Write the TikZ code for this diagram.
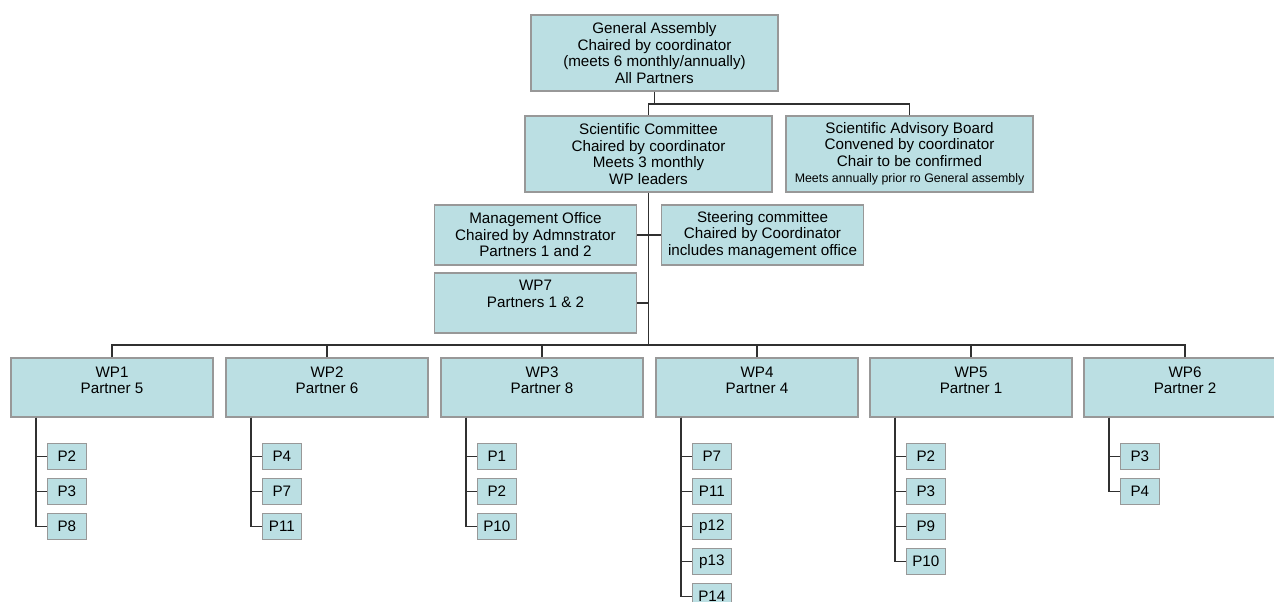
\documentclass[tikz,border=0pt]{standalone}
\usepackage{fontspec}
\setmainfont{Liberation Sans}
\usetikzlibrary{calc}
\definecolor{boxfill}{HTML}{BBDFE3}
\definecolor{boxline}{HTML}{989898}
\definecolor{conn}{HTML}{303030}
\begin{document}
\begin{tikzpicture}[x=1pt,y=-1pt,
  box/.style={draw=boxline,fill=boxfill,line width=1.3pt,inner sep=0pt,align=center,
    font=\fontsize{15.2}{16.5}\selectfont},
  bigbox/.style={box,minimum width=247pt,minimum height=76pt},
  midbox/.style={box,minimum width=202pt,minimum height=60pt},
  wpbox/.style={box,minimum width=202pt,minimum height=59pt},
  pbox/.style={box,minimum width=39pt,minimum height=26pt},
  toptext/.style={inner sep=0pt,anchor=north,align=center,font=\fontsize{15.2}{16.5}\selectfont},
  link/.style={draw=conn,line width=1.3pt}]
\useasboundingbox (0,0) rectangle (1274,602);
\clip (0,0) rectangle (1274,602);
\fill[white] (0,0) rectangle (1274,602);

% top levels
\node[bigbox] (GA) at (654.5,53) {General Assembly\\Chaired by coordinator\\(meets 6 monthly/annually)\\All Partners};
\node[bigbox] (SC) at (648.5,154) {Scientific Committee\\Chaired by coordinator\\Meets 3 monthly\\WP leaders};
\node[bigbox] (SAB) at (909.5,154) {Scientific Advisory Board\\Convened by coordinator\\Chair to be confirmed\\{\fontsize{12.4}{14}\selectfont Meets annually prior ro General assembly}};
\node[midbox] (MO) at (535.5,235) {Management Office\\Chaired by Admnstrator\\Partners 1 and 2};
\node[midbox] (ST) at (762.5,235) {Steering committee\\Chaired by Coordinator\\includes management office};
\node[midbox] (WP7) at (535.5,303) {};
\node[toptext] (WP7t) at ($(WP7.north)+(0,7.5)$) {WP7\\Partners 1 \& 2};

% WP boxes
\node[wpbox] (WP1) at (112,387.5) {};
\node[wpbox] (WP2) at (327,387.5) {};
\node[wpbox] (WP3) at (542,387.5) {};
\node[wpbox] (WP4) at (757,387.5) {};
\node[wpbox] (WP5) at (971,387.5) {};
\node[wpbox] (WP6) at (1185,387.5) {};
\node[toptext] (WP1t) at ($(WP1.north)+(0,9)$) {WP1\\Partner 5};
\node[toptext] (WP2t) at ($(WP2.north)+(0,9)$) {WP2\\Partner 6};
\node[toptext] (WP3t) at ($(WP3.north)+(0,9)$) {WP3\\Partner 8};
\node[toptext] (WP4t) at ($(WP4.north)+(0,9)$) {WP4\\Partner 4};
\node[toptext] (WP5t) at ($(WP5.north)+(0,9)$) {WP5\\Partner 1};
\node[toptext] (WP6t) at ($(WP6.north)+(0,9)$) {WP6\\Partner 2};

% connectors top
\coordinate (j1) at (654.5,104);
\coordinate (bus) at (648.5,345);
\draw[link] (GA.south) -- (j1);
\draw[link] (SC.north) |- (j1);
\draw[link] (SAB.north) |- (j1);
\draw[link] (SC.south) -- (bus);
\draw[link] (MO.east) -- (ST.west);
\draw[link] (WP7.east) -- (WP7.east -| SC.south);
\foreach \w in {WP1,WP2,WP3,WP4,WP5,WP6}{
  \draw[link] (\w.north) |- (bus);
}

% sub boxes
\foreach \w/\list in {WP1/{P2,P3,P8},WP2/{P4,P7,P11},WP3/{P1,P2,P10},WP4/{P7,P11,p12,p13,P14},WP5/{P2,P3,P9,P10},WP6/{P3,P4}}{
  \foreach \p [count=\i] in \list {
    \node[pbox] (\w-\i) at ($(\w.south west)+(56.5,39+35*\i-35)$) {\p};
    \draw[link] ($(\w.south west)+(25.5,0)$) |- (\w-\i.west);
  }
}
\end{tikzpicture}
\end{document}
